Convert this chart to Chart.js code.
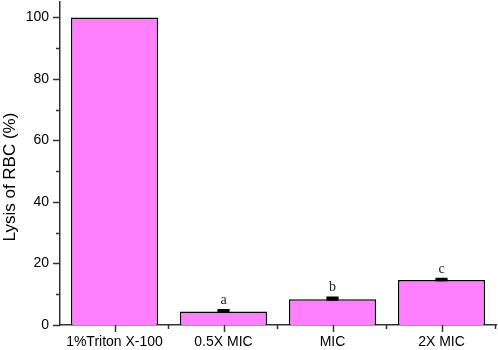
<!DOCTYPE html>
<html>
<head>
<meta charset="utf-8">
<script src="https://cdn.jsdelivr.net/npm/chart.js@4/dist/chart.umd.min.js"></script>
<style>
  html, body { margin: 0; padding: 0; background: #fff; }
  #wrap { width: 498px; height: 350px; }
</style>
</head>
<body>
<div id="wrap"><canvas id="myChart"></canvas></div>
<script>
"use strict";

// ========== data ========== //
const categories = ['1%Triton X-100', '0.5X MIC', 'MIC', '2X MIC'];
const lysis = [100, 4.4, 8.4, 14.6];
const lysisErr = [0, 0.5, 0.5, 0.4];
const letters = ['', 'a', 'b', 'c'];
const yMajorTicks = [0, 20, 40, 60, 80, 100];
const yMinorTicks = [10, 30, 50, 70, 90];

const axisColor = '#333';
const sansFont = "'Liberation Sans', Arial, sans-serif";

// ticks, error bars, letters and y title drawn on top
const extras = {
    id: 'extras',
    afterDatasetsDraw(chart) {
        const ctx = chart.ctx;
        const x = chart.scales.x;
        const y = chart.scales.y;
        ctx.save();
        // error bars
        ctx.strokeStyle = '#000';
        ctx.lineWidth = 2;
        lysis.forEach((v, i) => {
            if (!lysisErr[i]) return;
            const px = x.getPixelForValue(i);
            const top = y.getPixelForValue(v + lysisErr[i]);
            const bot = y.getPixelForValue(v - lysisErr[i]);
            ctx.beginPath();
            ctx.moveTo(px, bot);
            ctx.lineTo(px, top);
            ctx.moveTo(px - 6, top);
            ctx.lineTo(px + 6, top);
            ctx.stroke();
            ctx.fillStyle = '#000';
            ctx.fillRect(px - 6, top, 12, bot - top);
        });
        // letters
        ctx.fillStyle = '#222';
        ctx.font = "14px 'Liberation Serif', 'Times New Roman', serif";
        ctx.textAlign = 'center';
        ctx.textBaseline = 'bottom';
        lysis.forEach((v, i) => {
            if (!letters[i]) return;
            ctx.fillText(letters[i], x.getPixelForValue(i), y.getPixelForValue(v + lysisErr[i]) - 3);
        });
        ctx.restore();
    },
    afterDraw(chart) {
        const ctx = chart.ctx;
        const x = chart.scales.x;
        const y = chart.scales.y;
        const left = chart.chartArea.left;
        const bottom = chart.chartArea.bottom;
        ctx.save();
        ctx.strokeStyle = axisColor;
        ctx.lineWidth = 1.5;
        ctx.beginPath();
        yMajorTicks.forEach(v => {
            const py = Math.round(y.getPixelForValue(v)) + 0.5;
            ctx.moveTo(left - 7, py);
            ctx.lineTo(left, py);
        });
        yMinorTicks.forEach(v => {
            const py = Math.round(y.getPixelForValue(v)) + 0.5;
            ctx.moveTo(left - 4, py);
            ctx.lineTo(left, py);
        });
        const half = (x.getPixelForValue(1) - x.getPixelForValue(0)) / 2;
        categories.forEach((c, i) => {
            const px = Math.round(x.getPixelForValue(i)) + 0.5;
            ctx.moveTo(px, bottom);
            ctx.lineTo(px, bottom + 7);
            const mx = Math.round(x.getPixelForValue(i) + half) - 0.5;
            ctx.moveTo(mx, bottom);
            ctx.lineTo(mx, bottom + 4);
        });
        ctx.stroke();
        // y axis title
        ctx.translate(10, 177);
        ctx.rotate(-Math.PI / 2);
        ctx.fillStyle = '#000';
        ctx.font = '17px ' + sansFont;
        ctx.textAlign = 'center';
        ctx.textBaseline = 'middle';
        ctx.fillText('Lysis of RBC (%)', 0, 0);
        ctx.restore();
    }
};

let chart = new Chart(document.querySelector('#myChart'), {
    type: 'bar',
    data: {
        labels: categories,
        datasets: [{
            data: lysis,
            backgroundColor: '#ff80ff',
            borderColor: '#000',
            borderWidth: 1.5,
            barPercentage: 0.8,
            categoryPercentage: 1.0
        }]
    },
    options: {
        responsive: true,
        maintainAspectRatio: false,
        animation: false,
        layout: { padding: { top: 2, right: 2, left: 0, bottom: 0 } },
        plugins: {
            legend: { display: false },
            tooltip: { enabled: false }
        },
        scales: {
            x: {
                grid: { display: false, drawTicks: false },
                border: { display: true, color: axisColor, width: 1.5 },
                ticks: {
                    color: '#000',
                    font: { family: sansFont, size: 14 },
                    padding: 9,
                    maxRotation: 0
                },
                afterFit(scale) {
                    scale.height = 25;
                    scale.paddingLeft = 0;
                    scale.paddingRight = 0;
                }
            },
            y: {
                min: 0,
                max: 105,
                grid: { display: false, drawTicks: false },
                border: { display: true, color: axisColor, width: 1.5 },
                ticks: {
                    color: '#000',
                    font: { family: sansFont, size: 14 },
                    padding: 11
                },
                afterBuildTicks(scale) {
                    scale.ticks = yMajorTicks.map(v => ({ value: v }));
                },
                afterFit(scale) {
                    scale.width = 60;
                    scale.paddingTop = 0;
                    scale.paddingBottom = 0;
                }
            }
        }
    },
    plugins: [extras]
});
</script>
</body>
</html>
